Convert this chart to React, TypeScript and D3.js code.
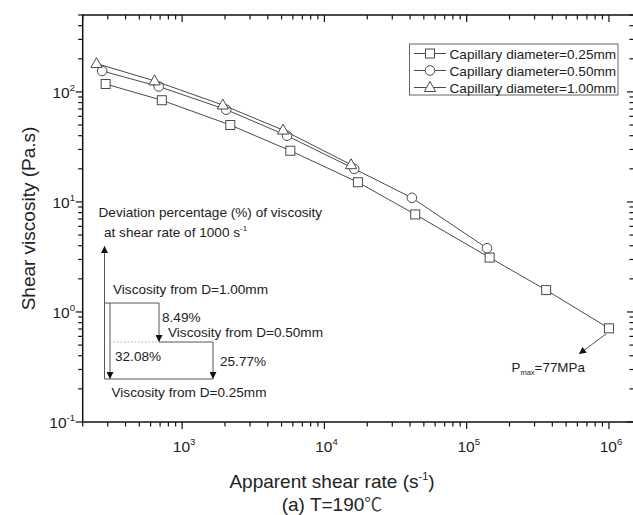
import React from 'react';
import * as d3 from 'd3';

const W = 633;
const H = 515;
const PLOT = { left: 82.7, right: 634, top: 15, bottom: 422 };
const FONT = '"Liberation Sans", Arial, Helvetica, sans-serif';

// Series data: apparent shear rate (1/s) and shear viscosity (Pa.s)
const seriesNames = [
  'Capillary diameter=0.25mm',
  'Capillary diameter=0.50mm',
  'Capillary diameter=1.00mm',
];
const shearRate025 = [290, 720, 2180, 5760, 17200, 43500, 145000, 362000, 1000000];
const viscosity025 = [118, 84, 50, 29.2, 15.1, 7.7, 3.12, 1.58, 0.71];
const shearRate050 = [274, 685, 2040, 5460, 16200, 41200, 139000];
const viscosity050 = [155, 112, 69, 40, 20, 10.9, 3.8];
const shearRate100 = [250, 640, 1930, 5120, 15400];
const viscosity100 = [181, 126, 76, 45, 21.8];

const xDomain = [200, 1.5e6];
const yDomain = [0.1, 500];
const xTickExponents = [3, 4, 5, 6];
const yTickExponents = [-1, 0, 1, 2];

const deviationLabels = ['8.49%', '32.08%', '25.77%'];

const x = d3.scaleLog().domain(xDomain).range([PLOT.left, PLOT.right]);
const y = d3.scaleLog().domain(yDomain).range([PLOT.bottom, PLOT.top]);

function logTicks(domain: number[]) {
  const out: { v: number; major: boolean }[] = [];
  const lo = Math.floor(Math.log10(domain[0]));
  const hi = Math.ceil(Math.log10(domain[1]));
  for (let e = lo; e <= hi; e++) {
    for (let k = 1; k <= 9; k++) {
      const v = k * Math.pow(10, e);
      if (v >= domain[0] * 0.9999 && v <= domain[1] * 1.0001) out.push({ v, major: k === 1 });
    }
  }
  return out;
}

const STROKE = '#4a4a4a';

function Marker({ kind, cx, cy }: { kind: number; cx: number; cy: number }) {
  if (kind === 0) {
    return <rect x={cx - 4.5} y={cy - 4.5} width={9} height={9} fill="#fff" stroke={STROKE} strokeWidth={1} />;
  }
  if (kind === 1) {
    return <circle cx={cx} cy={cy} r={4.8} fill="#fff" stroke={STROKE} strokeWidth={1} />;
  }
  return (
    <path
      d={`M${cx},${cy - 6}L${cx + 5.6},${cy + 4}L${cx - 5.6},${cy + 4}Z`}
      fill="#fff"
      stroke={STROKE}
      strokeWidth={1}
    />
  );
}

function Pow10({ e, x: px, y: py, anchor }: { e: number; x: number; y: number; anchor: string }) {
  return (
    <text x={px} y={py} fontSize={15.5} textAnchor={anchor} fill="#222">
      10
      <tspan fontSize={9.5} dy={-7}>
        {e}
      </tspan>
    </text>
  );
}

export default function App() {
  const series = [
    { xs: shearRate025, ys: viscosity025 },
    { xs: shearRate050, ys: viscosity050 },
    { xs: shearRate100, ys: viscosity100 },
  ];
  const line = d3
    .line<[number, number]>()
    .x((d) => x(d[0]))
    .y((d) => y(d[1]));

  const xt = logTicks(xDomain);
  const yt = logTicks(yDomain);

  const legendX = 409.5;
  const legendY = 44;
  const legendRows = [53.5, 70.5, 87.5];

  return (
    <svg
      width={W}
      height={H}
      viewBox={`0 0 ${W} ${H}`}
      style={{ position: 'absolute', left: 0, top: 0, background: '#fff' }}
      fontFamily={FONT}
    >
      <defs>
        <marker id="ah" viewBox="0 0 10 10" refX="10" refY="5" markerWidth="10" markerHeight="7" markerUnits="userSpaceOnUse" orient="auto">
          <path d="M0,0L10,5L0,10Z" fill="#111" />
        </marker>
      </defs>
      <rect x={0} y={0} width={W} height={H} fill="#fff" />

      {/* series lines and markers */}
      {series.map((s, i) => (
        <g key={i}>
          <path
            d={line(s.xs.map((v, j) => [v, s.ys[j]] as [number, number])) || ''}
            fill="none"
            stroke={STROKE}
            strokeWidth={1}
          />
          {s.xs.map((v, j) => (
            <Marker key={j} kind={i} cx={x(v)} cy={y(s.ys[j])} />
          ))}
        </g>
      ))}

      {/* frame */}
      <rect
        x={PLOT.left}
        y={PLOT.top}
        width={PLOT.right - PLOT.left}
        height={PLOT.bottom - PLOT.top}
        fill="none"
        stroke="#111"
        strokeWidth={1.5}
      />

      {/* x ticks: bottom outward, top inward */}
      {xt.map((t, i) => {
        const px = x(t.v);
        const len = t.major ? 7 : 4.5;
        return (
          <g key={i} stroke="#111" strokeWidth={1.2}>
            <line x1={px} x2={px} y1={PLOT.bottom} y2={PLOT.bottom + len} />
            <line x1={px} x2={px} y1={PLOT.top} y2={PLOT.top + len} />
          </g>
        );
      })}
      {/* y ticks: left outward, right inward */}
      {yt.map((t, i) => {
        const py = y(t.v);
        const len = t.major ? 7 : 4.5;
        return (
          <g key={i} stroke="#111" strokeWidth={1.2}>
            <line x1={PLOT.left - len} x2={PLOT.left} y1={py} y2={py} />
            <line x1={PLOT.right - len} x2={PLOT.right} y1={py} y2={py} />
          </g>
        );
      })}

      {xTickExponents.map((e) => (
        <Pow10 key={e} e={e} x={x(Math.pow(10, e)) + 2} y={452} anchor="middle" />
      ))}
      {yTickExponents.map((e) => (
        <Pow10 key={e} e={e} x={75} y={y(Math.pow(10, e)) + 6} anchor="end" />
      ))}

      {/* axis titles */}
      <text x={332} y={488} fontSize={19} textAnchor="middle" fill="#222">
        Apparent shear rate (s
        <tspan fontSize={11} dy={-8}>-1</tspan>
        <tspan dy={8}>)</tspan>
      </text>
      <text x={332} y={511} fontSize={19} textAnchor="middle" fill="#222">
        (a) T=190
        <tspan fontFamily='"Noto Sans CJK SC", "DejaVu Sans", sans-serif' fontSize={18} fill="#444">
          ℃
        </tspan>
      </text>
      <text
        transform={`translate(35,${(PLOT.top + PLOT.bottom) / 2}) rotate(-90)`}
        fontSize={19}
        textAnchor="middle"
        fill="#222"
      >
        Shear viscosity (Pa.s)
      </text>

      {/* legend */}
      <rect x={legendX} y={legendY} width={208.5} height={51} fill="#fff" stroke="#666" strokeWidth={1} />
      {seriesNames.map((name, i) => (
        <g key={name}>
          <line x1={414} x2={446} y1={legendRows[i]} y2={legendRows[i]} stroke={STROKE} strokeWidth={1} />
          <Marker kind={i} cx={430} cy={legendRows[i]} />
          <text x={449.5} y={legendRows[i] + 5} fontSize={13.6} fill="#222">
            {name}
          </text>
        </g>
      ))}

      {/* deviation schematic */}
      <g fill="#222" fontSize={13.6}>
        <text x={98.5} y={217}>Deviation percentage (%) of viscosity</text>
        <text x={104} y={237}>
          at shear rate of 1000 s
          <tspan fontSize={8} dy={-6}>-1</tspan>
        </text>
        <text x={113} y={294}>Viscosity from D=1.00mm</text>
        <text x={162} y={321.5}>{deviationLabels[0]}</text>
        <text x={168} y={337}>Viscosity from D=0.50mm</text>
        <text x={115} y={360.5}>{deviationLabels[1]}</text>
        <text x={220} y={365.5}>{deviationLabels[2]}</text>
        <text x={111.5} y={397}>Viscosity from D=0.25mm</text>
      </g>
      <g stroke="#555" strokeWidth={1} fill="none">
        <line x1={104.5} x2={104.5} y1={379} y2={246} markerEnd="url(#ah)" />
        <line x1={104.5} x2={159} y1={303} y2={303} />
        <line x1={110} x2={110} y1={303} y2={379} markerEnd="url(#ah)" />
        <line x1={159} x2={159} y1={303} y2={342} markerEnd="url(#ah)" />
        <line x1={159} x2={213} y1={342} y2={342} />
        <line x1={213} x2={213} y1={342} y2={379} markerEnd="url(#ah)" />
        <line x1={104.5} x2={213} y1={379} y2={379} />
        <line x1={110} x2={158} y1={342} y2={342} stroke="#aaa" strokeDasharray="1.5,2" />
      </g>

      {/* maximum pressure note */}
      <line x1={606} y1={334} x2={579} y2={354} stroke="#555" strokeWidth={1} markerEnd="url(#ah)" />
      <text x={511.5} y={371.5} fontSize={13.4} fill="#222">
        P
        <tspan fontSize={7.5} dy={3.5}>max</tspan>
        <tspan dy={-3.5}>=77MPa</tspan>
      </text>
    </svg>
  );
}
